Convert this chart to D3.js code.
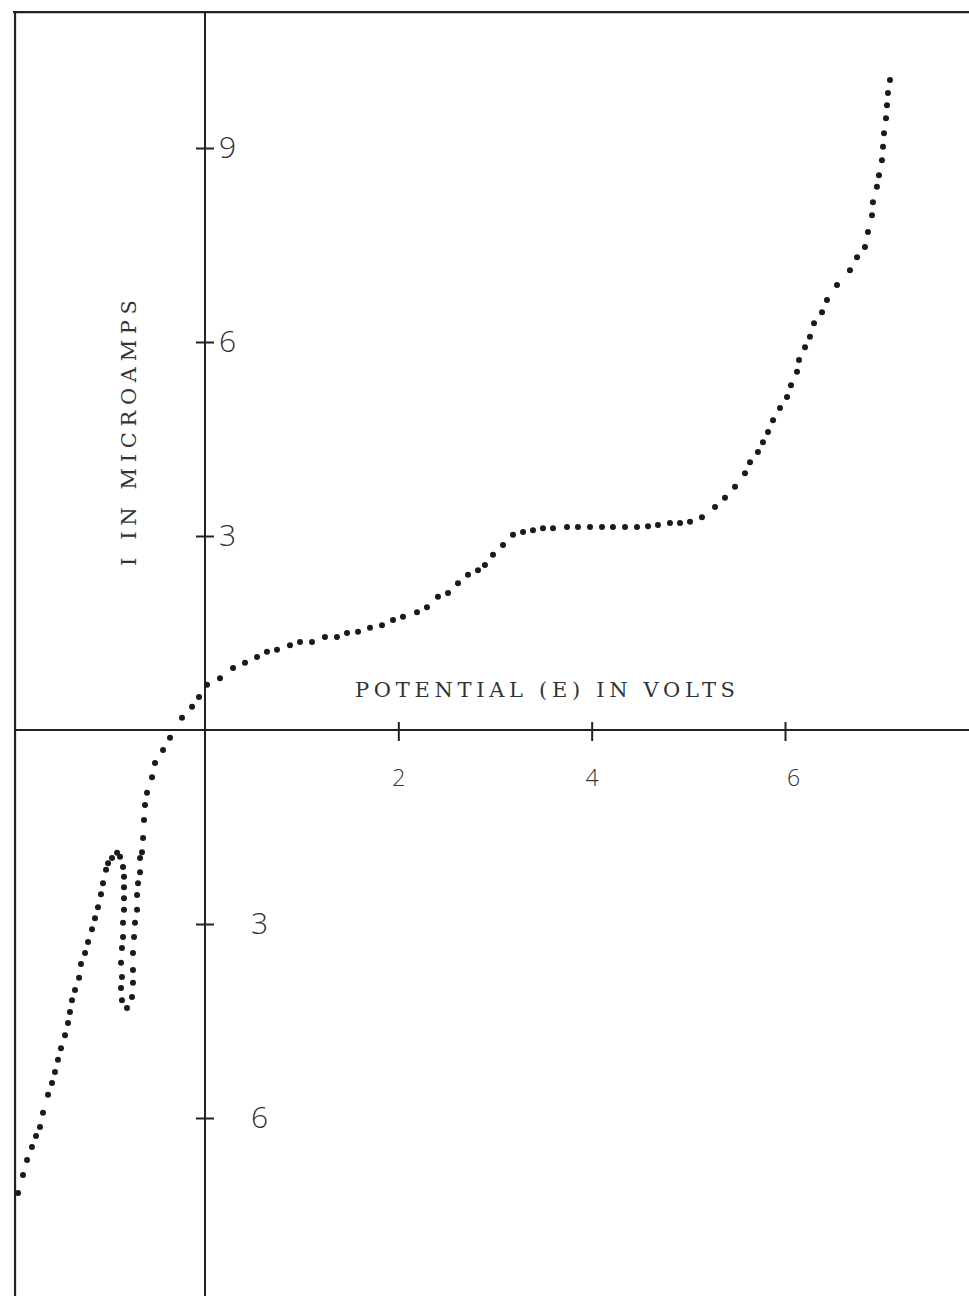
<!DOCTYPE html>
<html>
<head>
<meta charset="utf-8">
<script src="https://cdn.jsdelivr.net/npm/d3@7/dist/d3.min.js"></script>
<style>
  html, body { margin: 0; padding: 0; background: #ffffff; }
  svg { display: block; }
</style>
</head>
<body>
<svg id="chart" width="969" height="1296"></svg>
<script>
// Current-voltage trace, plotted as a row of typed dots.
// Potential E in volts, current I in microamps (negative = cathodic, below the axis).
const potential = [
  -1.934, -1.883, -1.841, -1.790, -1.748, -1.707, -1.676, -1.624, -1.583, -1.552,
  -1.521, -1.490, -1.448, -1.417, -1.397, -1.376, -1.345, -1.303, -1.283, -1.241,
  -1.210, -1.169, -1.138, -1.107, -1.076, -1.055, -1.024, -1.003, -0.962, -0.910,
  -0.879, -0.848, -0.838, -0.838, -0.838, -0.838, -0.848, -0.848, -0.859, -0.869,
  -0.859, -0.869, -0.859, -0.807,
  -0.755, -0.745, -0.745, -0.745, -0.734, -0.724, -0.703, -0.703, -0.693, -0.672,
  -0.672, -0.652, -0.641, -0.631, -0.621, -0.600, -0.548, -0.517, -0.434, -0.362,
  -0.238, -0.134, -0.062,
  0.021, 0.155, 0.290, 0.414, 0.538, 0.641, 0.745, 0.879, 0.983, 1.107,
  1.241, 1.365, 1.469, 1.583, 1.707, 1.831, 1.945, 2.048, 2.193, 2.296,
  2.410, 2.514, 2.617, 2.721, 2.824, 2.896, 2.979, 3.083, 3.186, 3.290,
  3.393, 3.496, 3.600, 3.745, 3.858, 3.983, 4.107, 4.220, 4.345, 4.469,
  4.583, 4.686, 4.810, 4.914, 5.017, 5.141, 5.276, 5.379, 5.483, 5.586,
  5.638, 5.720, 5.772, 5.824, 5.876, 5.948, 6.021, 6.062, 6.124, 6.145,
  6.207, 6.258, 6.300, 6.383, 6.434, 6.538, 6.672, 6.745, 6.827, 6.858,
  6.900, 6.910, 6.951, 6.972, 7.003, 7.014, 7.024, 7.045, 7.055, 7.065,
  7.086
];
const current = [
  -7.16, -6.88, -6.65, -6.45, -6.28, -6.14, -5.92, -5.64, -5.46, -5.29,
  -5.10, -4.92, -4.72, -4.53, -4.36, -4.18, -4.02, -3.83, -3.62, -3.45,
  -3.28, -3.08, -2.91, -2.74, -2.54, -2.37, -2.16, -2.06, -1.98, -1.90,
  -1.96, -2.12, -2.27, -2.43, -2.60, -2.78, -2.98, -3.20, -3.37, -3.60,
  -3.82, -3.99, -4.18, -4.30,
  -4.13, -3.91, -3.71, -3.45, -3.20, -2.98, -2.78, -2.55, -2.37, -2.20,
  -1.98, -1.89, -1.67, -1.39, -1.16, -0.97, -0.73, -0.51, -0.31, -0.12,
  0.19, 0.36, 0.51,
  0.70, 0.80, 0.96, 1.04, 1.13, 1.21, 1.24, 1.31, 1.36, 1.36,
  1.44, 1.44, 1.50, 1.52, 1.58, 1.62, 1.70, 1.75, 1.82, 1.90,
  2.06, 2.12, 2.27, 2.40, 2.47, 2.55, 2.71, 2.86, 3.02, 3.06,
  3.09, 3.12, 3.12, 3.14, 3.14, 3.14, 3.14, 3.14, 3.14, 3.14,
  3.15, 3.17, 3.20, 3.20, 3.22, 3.29, 3.45, 3.59, 3.76, 3.97,
  4.14, 4.30, 4.45, 4.61, 4.79, 4.98, 5.15, 5.33, 5.54, 5.72,
  5.92, 6.08, 6.29, 6.46, 6.65, 6.88, 7.11, 7.31, 7.47, 7.70,
  7.96, 8.16, 8.40, 8.58, 8.81, 9.02, 9.23, 9.46, 9.66, 9.85,
  10.05
];

// Axis ticks
const voltTicks = [2, 4, 6];
const currentTicks = [9, 6, 3, -3, -6];

// Extent of the ruled frame, in data units
const frameLeft = -1.965;
const frameRight = 7.9;
const frameTop = 11.1;
const frameBottom = -8.8;

const xTitle = "POTENTIAL (E) IN VOLTS";
const yTitle = "I  IN MICROAMPS";

const svg = d3.select("#chart");

const x = d3.scaleLinear().domain([0, 6]).range([205, 785]);
const y = d3.scaleLinear().domain([0, 9]).range([730, 148]);

const ink = "#222";
const typeFont = "'DejaVu Serif', 'Liberation Serif', serif";
const handFont = "'Open Sans', 'DejaVu Sans', sans-serif";

// Frame: top rule and left rule
svg.append("line")
  .attr("x1", x(frameLeft) - 2).attr("x2", x(frameRight) + 10)
  .attr("y1", y(frameTop)).attr("y2", y(frameTop))
  .attr("stroke", ink).attr("stroke-width", 2.2);
svg.append("line")
  .attr("x1", x(frameLeft)).attr("x2", x(frameLeft))
  .attr("y1", y(frameTop)).attr("y2", y(frameBottom))
  .attr("stroke", ink).attr("stroke-width", 2.2);

// Main axes through the origin
svg.append("line")
  .attr("x1", x(frameLeft)).attr("x2", x(frameRight) + 10)
  .attr("y1", y(0)).attr("y2", y(0))
  .attr("stroke", ink).attr("stroke-width", 2);
svg.append("line")
  .attr("x1", x(0)).attr("x2", x(0))
  .attr("y1", y(frameTop)).attr("y2", y(frameBottom))
  .attr("stroke", ink).attr("stroke-width", 2);

// X axis ticks and labels
const xAxis = svg.append("g")
  .attr("transform", `translate(0,${y(0)})`)
  .call(d3.axisBottom(x).tickValues(voltTicks).tickSize(11).tickFormat(d3.format("d")));
xAxis.select(".domain").remove();
xAxis.selectAll(".tick line")
  .attr("y1", -8).attr("y2", 11)
  .attr("stroke", ink).attr("stroke-width", 2);
xAxis.selectAll(".tick text")
  .attr("y", 56).attr("dy", 0)
  .attr("dx", (d) => d === 6 ? 8 : 0)
  .attr("fill", "#333")
  .style("font-family", handFont)
  .style("font-weight", 300)
  .style("font-size", "23px");

// Y axis ticks and labels (cathodic values printed as magnitudes)
const yAxis = svg.append("g")
  .attr("transform", `translate(${x(0)},0)`)
  .call(d3.axisRight(y).tickValues(currentTicks).tickSize(9).tickFormat((d) => Math.abs(d)));
yAxis.select(".domain").remove();
yAxis.selectAll(".tick line")
  .attr("x1", -9).attr("x2", 9)
  .attr("stroke", ink).attr("stroke-width", 2);
yAxis.selectAll(".tick text")
  .attr("x", (d) => d > 0 ? 14 : 46)
  .attr("dy", "0.3em")
  .attr("text-anchor", "start")
  .attr("fill", "#333")
  .style("font-family", handFont)
  .style("font-weight", 300)
  .style("font-size", "30px");

// Typed axis titles
svg.append("text")
  .attr("x", 355).attr("y", 697)
  .attr("fill", "#333")
  .attr("textLength", 380)
  .attr("lengthAdjust", "spacing")
  .style("font-family", typeFont)
  .style("font-size", "21px")
  .text(xTitle);

svg.append("text")
  .attr("transform", "translate(136,566) rotate(-90)")
  .attr("fill", "#333")
  .attr("textLength", 266)
  .attr("lengthAdjust", "spacing")
  .style("font-family", typeFont)
  .style("font-size", "21px")
  .text(yTitle);

// Dotted trace
const points = potential.map((e, i) => ({ e, i: current[i] }));
svg.append("g")
  .selectAll("circle")
  .data(points)
  .join("circle")
  .attr("cx", (d) => x(d.e))
  .attr("cy", (d) => y(d.i))
  .attr("r", 3)
  .attr("fill", "#1a1a1a");
</script>
</body>
</html>
